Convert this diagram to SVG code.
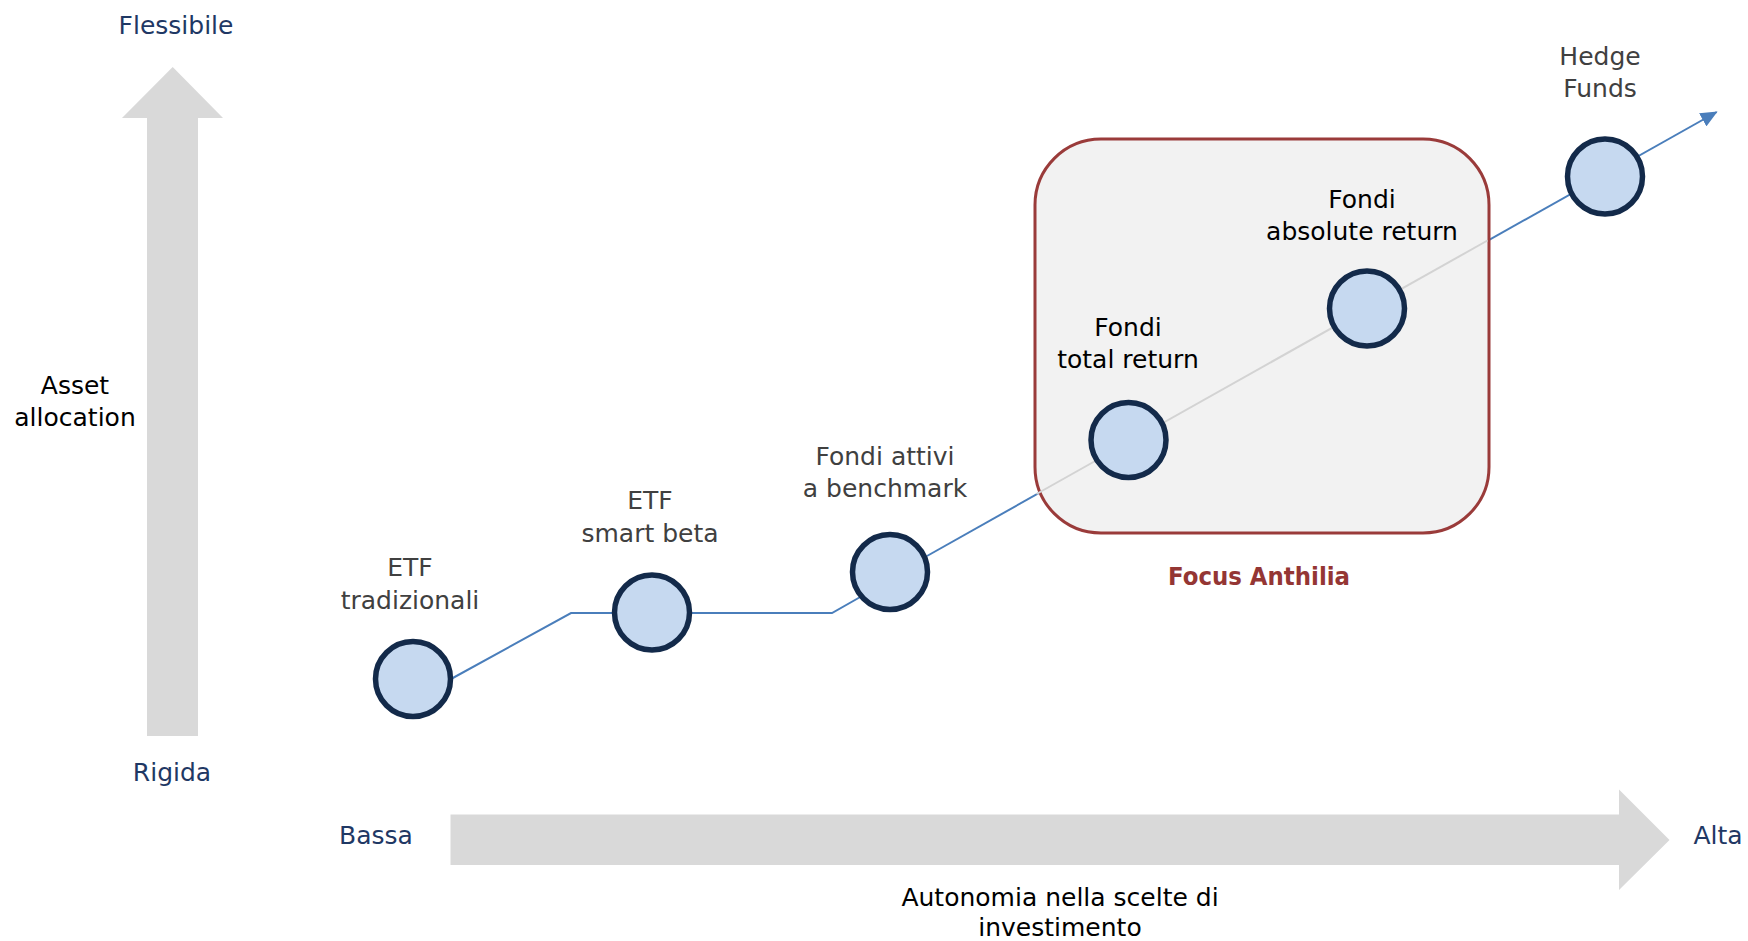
<svg xmlns="http://www.w3.org/2000/svg" width="1748" height="941" viewBox="0 0 1748 941">
<style>
text{font-family:"DejaVu Sans","Liberation Sans",sans-serif;font-size:25px;text-anchor:middle}
.ax{fill:#1f3864}
.lbl{fill:#404040}
.blk{fill:#000000}
.focus{fill:#943634;font-weight:bold;font-size:24.5px}
.big{fill:#d9d9d9}
.node{fill:#c6d9f0;stroke:#132a4a;stroke-width:5.5}
.conn{fill:none;stroke:#4a7ebb;stroke-width:2}
.inner{fill:none;stroke:#d3d3d3;stroke-width:2}
</style>
<defs>
<marker id="ah" markerUnits="userSpaceOnUse" markerWidth="17" markerHeight="15" viewBox="0 0 17 15" refX="16" refY="7.5" orient="auto">
<path d="M0,0 L17,7.5 L0,15 z" fill="#4a7ebb"/>
</marker>
</defs>
<rect width="1748" height="941" fill="#ffffff"/>
<g id="axis-y">
<polygon class="big" points="147,736 147,118 122,118 172.7,67 223,118 198,118 198,736"/>
<text class="ax" x="176" y="34">Flessibile</text>
<text class="ax" x="172" y="781">Rigida</text>
<text class="blk" x="75" y="394">Asset</text>
<text class="blk" x="75" y="426">allocation</text>
</g>
<g id="axis-x">
<polygon class="big" points="450.5,814.5 1619,814.5 1619,789.5 1669.5,840 1619,890 1619,865 450.5,865"/>
<text class="ax" x="376" y="844">Bassa</text>
<text class="ax" x="1718" y="844">Alta</text>
<text class="blk" x="1060" y="906">Autonomia nella scelte di</text>
<text class="blk" x="1060" y="936">investimento</text>
</g>
<g id="connectors">
<polyline class="conn" points="451,679 571,613 832,613 862,596"/>
<line class="conn" x1="927" y1="556" x2="1716.7" y2="112" marker-end="url(#ah)"/>
</g>
<g id="focus-anthilia">
<rect x="1035" y="139" width="454" height="394" rx="66" ry="66" fill="#f2f2f2" stroke="#9a3b3a" stroke-width="3"/>
<line class="inner" x1="1036.5" y1="494" x2="1487.5" y2="240.5"/>
<text class="focus" x="1259" y="585" textLength="182" lengthAdjust="spacingAndGlyphs">Focus Anthilia</text>
</g>
<g id="node-etf-tradizionali">
<circle class="node" cx="413" cy="679" r="37.5"/>
<text class="lbl" x="410" y="576">ETF</text>
<text class="lbl" x="410" y="608.5">tradizionali</text>
</g>
<g id="node-etf-smart-beta">
<circle class="node" cx="652" cy="612.5" r="37.5"/>
<text class="lbl" x="650" y="509">ETF</text>
<text class="lbl" x="650" y="541.5">smart beta</text>
</g>
<g id="node-fondi-attivi">
<circle class="node" cx="890" cy="572" r="37.5"/>
<text class="lbl" x="885" y="465">Fondi attivi</text>
<text class="lbl" x="885" y="497">a benchmark</text>
</g>
<g id="node-total-return">
<circle class="node" cx="1128.5" cy="440" r="37.5"/>
<text class="blk" x="1128" y="336">Fondi</text>
<text class="blk" x="1128" y="368">total return</text>
</g>
<g id="node-absolute-return">
<circle class="node" cx="1367" cy="308.5" r="37.5"/>
<text class="blk" x="1362" y="208">Fondi</text>
<text class="blk" x="1362" y="240">absolute return</text>
</g>
<g id="node-hedge-funds">
<circle class="node" cx="1605" cy="176.5" r="37.5"/>
<text class="lbl" x="1600" y="65">Hedge</text>
<text class="lbl" x="1600" y="97">Funds</text>
</g>
</svg>
